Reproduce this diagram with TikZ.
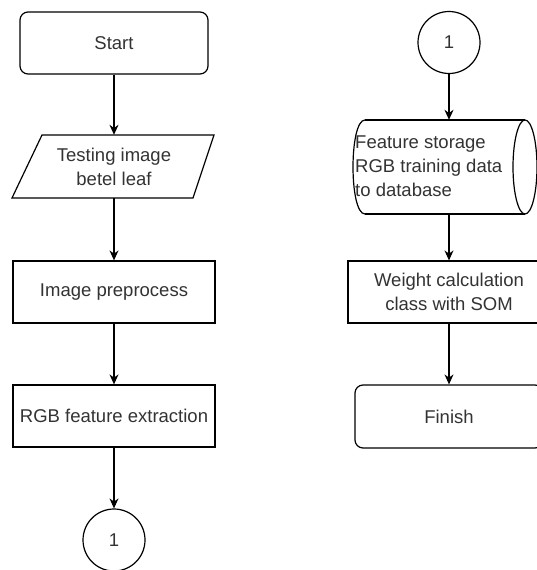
\documentclass[tikz,border=0pt]{standalone}
\usepackage{fontspec}
\setmainfont{Liberation Sans}
\usetikzlibrary{arrows.meta}
\definecolor{txt}{HTML}{333333}
\begin{document}
\begin{tikzpicture}[x=1pt,y=-1pt,
  font=\fontsize{18.5}{24}\selectfont,
  box/.style={draw,line width=1.2pt,text=txt,minimum width=202pt,minimum height=62pt,inner sep=0pt,align=center},
  term/.style={box,rounded corners=8pt,minimum width=188pt,minimum height=62pt},
  conn/.style={draw,circle,line width=1.2pt,text=txt,minimum size=62pt,inner sep=0pt},
  ghost/.style={inner sep=0pt,text=txt,align=center},
  arr/.style={line width=1.2pt,-{Stealth[length=10pt,width=9pt]}}]
\useasboundingbox (0,0) rectangle (537,570);
\fill[white] (0,0) rectangle (537,570);
% left column
\node[term] (start) at (114,43) {Start};
\node[ghost,minimum width=170pt,minimum height=63pt] (in) at (114,166.5) {Testing image\\betel leaf};
\draw[line width=1.2pt] (42,135) -- (214,135) -- (193,198) -- (12,198) -- cycle;
\node[box] (prep) at (114,292) {Image preprocess};
\node[box] (rgb) at (114,416) {RGB feature extraction};
\node[conn] (c1) at (114,540) {1};
% right column
\node[conn] (c2) at (449,42.5) {1};
\node[inner sep=0pt,minimum width=192pt,minimum height=94pt] (store) at (449,167) {};
\draw[line width=1.2pt] (365,120) -- (525,120) (365,214) -- (525,214);
\draw[line width=1.2pt] (365,120) .. controls (349,120) and (349,214) .. (365,214);
\draw[line width=1.2pt] (525,167) ellipse [x radius=12, y radius=47];
\node[ghost,anchor=west,align=left] (storetxt) at (355,166) {Feature storage\\RGB training data\\to database};
\node[box] (weight) at (449,292) {Weight calculation\\class with SOM};
\node[term,minimum height=63pt] (finish) at (449,416.5) {Finish};
% connectors
\draw[arr] (start.south) -- (in.north);
\draw[arr] (in.south) -- (prep.north);
\draw[arr] (prep.south) -- (rgb.north);
\draw[arr] (rgb.south) -- (c1.north);
\draw[arr] (c2.south) -- (store.north);
\draw[arr] (store.south) -- (weight.north);
\draw[arr] (weight.south) -- (finish.north);
\end{tikzpicture}
\end{document}
